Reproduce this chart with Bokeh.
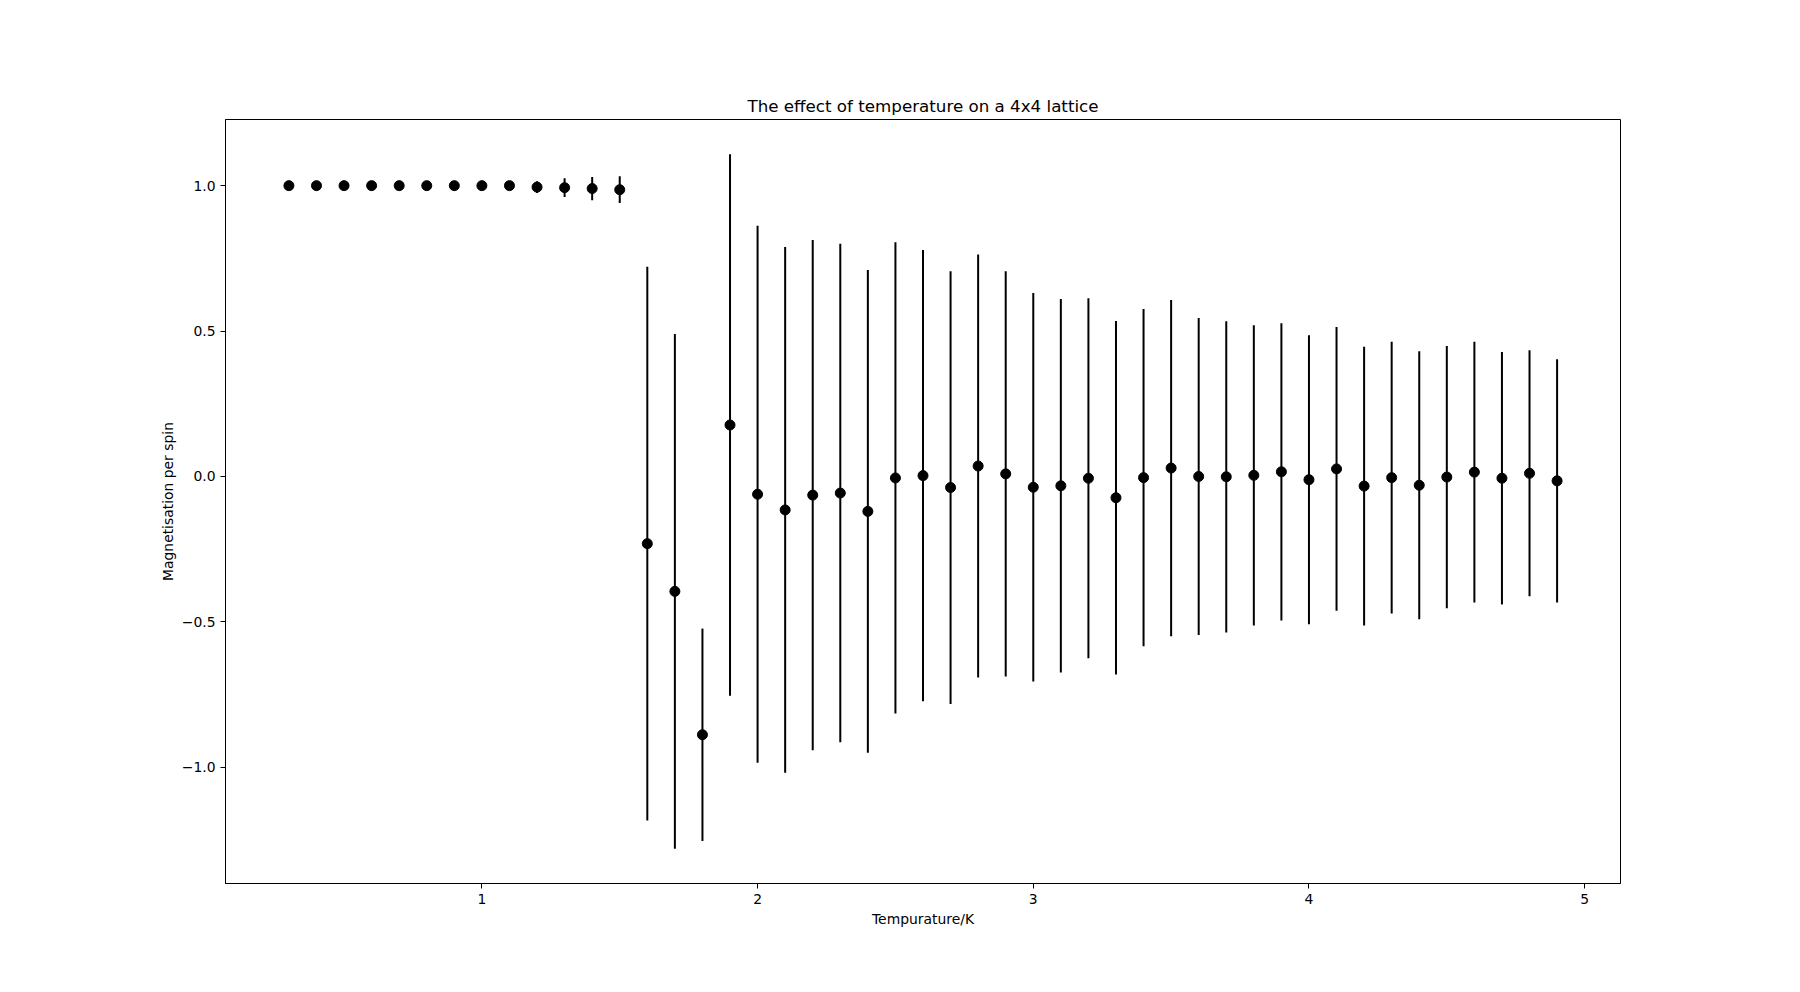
from bokeh.embed import file_html
from bokeh.models import ColumnDataSource, FixedTicker, Range1d
from bokeh.plotting import figure
from bokeh.resources import INLINE

# temperature steps and measured magnetisation per spin (mean, std)
temp = [0.3, 0.4, 0.5, 0.6, 0.7, 0.8, 0.9, 1.0, 1.1, 1.2, 1.3, 1.4, 1.5,
        1.6, 1.7, 1.8, 1.9, 2.0, 2.1, 2.2, 2.3, 2.4, 2.5, 2.6, 2.7, 2.8,
        2.9, 3.0, 3.1, 3.2, 3.3, 3.4, 3.5, 3.6, 3.7, 3.8, 3.9, 4.0, 4.1,
        4.2, 4.3, 4.4, 4.5, 4.6, 4.7, 4.8, 4.9]
mag = [1.0, 1.0, 1.0, 1.0, 1.0, 1.0, 1.0, 1.0, 1.0, 0.995, 0.993, 0.990, 0.986,
       -0.231, -0.395, -0.888, 0.177, -0.061, -0.115, -0.064, -0.057, -0.12,
       -0.005, 0.003, -0.038, 0.036, 0.009, -0.037, -0.032, -0.006, -0.073,
       -0.004, 0.029, 0.0, -0.001, 0.004, 0.016, -0.011, 0.026, -0.033, -0.004,
       -0.030, -0.002, 0.015, -0.006, 0.011, -0.015]
err = [0.0, 0.0, 0.0, 0.0, 0.0, 0.0, 0.0, 0.0, 0.004, 0.020, 0.032, 0.040, 0.046,
       0.952, 0.885, 0.365, 0.931, 0.923, 0.904, 0.877, 0.857, 0.83,
       0.81, 0.776, 0.744, 0.727, 0.697, 0.668, 0.642, 0.619, 0.608,
       0.58, 0.578, 0.545, 0.535, 0.516, 0.511, 0.497, 0.488, 0.479, 0.467,
       0.461, 0.451, 0.448, 0.434, 0.423, 0.418]

x_ticks = [1, 2, 3, 4, 5]
y_ticks = [-1.0, -0.5, 0.0, 0.5, 1.0]
y_tick_labels = ["\u22121.0", "\u22120.5", "0.0", "0.5", "1.0"]

lower = [m - e for m, e in zip(mag, err)]
upper = [m + e for m, e in zip(mag, err)]
source = ColumnDataSource(data=dict(temp=temp, mag=mag, lower=lower, upper=upper))

# matplotlib-like 5% margins
xpad = (max(temp) - min(temp)) * 0.05
ypad = (max(upper) - min(lower)) * 0.05

FONT = "DejaVu Sans"

p = figure(
    width=1792,
    height=976,
    title="The effect of temperature on a 4x4 lattice",
    x_range=Range1d(min(temp) - xpad, max(temp) + xpad),
    y_range=Range1d(min(lower) - ypad, max(upper) + ypad),
    toolbar_location=None,
    output_backend="svg",
    min_border_left=225,
    min_border_right=172,
    min_border_top=119,
    min_border_bottom=93,
)

p.segment(x0="temp", y0="lower", x1="temp", y1="upper", source=source,
          line_color="black", line_width=2)
p.scatter("temp", "mag", source=source, size=10, fill_color="black",
          line_color="black")

p.title.align = "center"
p.title.text_font = FONT
p.title.text_font_size = "16.7px"
p.title.text_font_style = "normal"
p.title.text_color = "black"
p.title.standoff = 8

p.xgrid.grid_line_color = None
p.ygrid.grid_line_color = None
p.outline_line_color = "black"
p.outline_line_width = 1

p.xaxis.ticker = FixedTicker(ticks=x_ticks)
p.yaxis.ticker = FixedTicker(ticks=y_ticks)
p.yaxis.major_label_overrides = dict(zip(y_ticks, y_tick_labels))
p.xaxis.axis_label = "Tempurature/K"
p.yaxis.axis_label = "Magnetisation per spin"

for ax in (p.xaxis, p.yaxis):
    ax.minor_tick_line_color = None
    ax.major_tick_out = 5
    ax.major_tick_in = 0
    ax.major_label_standoff = 5
    ax.axis_line_color = "black"
    ax.major_tick_line_color = "black"
    ax.major_label_text_font = FONT
    ax.major_label_text_font_size = "13.9px"
    ax.major_label_text_color = "black"
    ax.axis_label_text_font = FONT
    ax.axis_label_text_font_size = "13.9px"
    ax.axis_label_text_font_style = "normal"
    ax.axis_label_text_color = "black"

p.xaxis.axis_label_standoff = 4
p.yaxis.axis_label_standoff = 3

open("out.html", "w").write(file_html(p, INLINE))
